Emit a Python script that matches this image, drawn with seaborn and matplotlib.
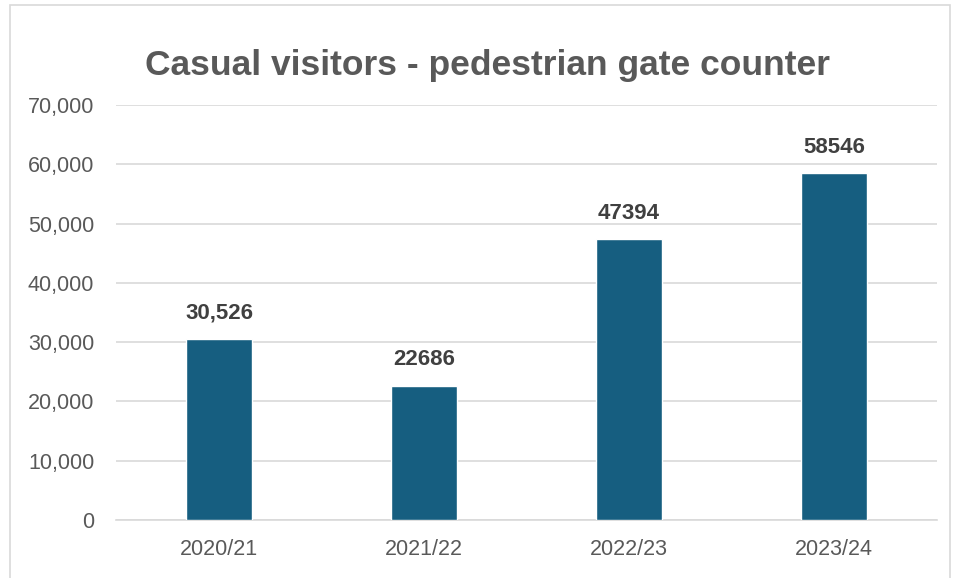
import matplotlib
matplotlib.use("Agg")
import matplotlib.pyplot as plt
import seaborn as sns
import pandas as pd
from matplotlib.patches import Rectangle
from matplotlib.ticker import FuncFormatter


# chart data
seasons = ["2020/21", "2021/22", "2022/23", "2023/24"]
visitors = [30526, 22686, 47394, 58546]
bar_labels = ["30,526", "22686", "47394", "58546"]
y_ticks = [0, 10000, 20000, 30000, 40000, 50000, 60000, 70000]

df = pd.DataFrame({"season": seasons, "visitors": visitors})


# generate plot
sns.set_style("white")
plt.rcParams["font.family"] = ["Liberation Sans", "DejaVu Sans"]

fig = plt.figure(figsize=(9.54, 5.78), dpi=100)
ax = fig.add_axes([0.1221, 0.1003, 0.8596, 0.718])

sns.barplot(data=df, x="season", y="visitors", color="#165e80",
            width=0.32, saturation=1, ax=ax, zorder=3)

ax.set_ylim(0, 70000)
ax.set_yticks(y_ticks)
ax.yaxis.set_major_formatter(FuncFormatter(lambda v, p: f"{int(v):,}"))
ax.grid(axis="y", color="#d9d9d9", linewidth=1.2, zorder=0)
ax.set_xlabel("")
ax.set_ylabel("")
for s in ["top", "right", "left"]:
    ax.spines[s].set_visible(False)
ax.spines["bottom"].set_color("#d9d9d9")
ax.spines["bottom"].set_linewidth(1.2)
ax.tick_params(axis="both", length=0, labelsize=15.5, colors="#595959")
ax.tick_params(axis="y", pad=16)
ax.tick_params(axis="x", pad=14)

for patch, txt in zip(ax.patches, bar_labels):
    ax.annotate(txt, (patch.get_x() + patch.get_width() / 2, patch.get_height()),
                xytext=(0, 11), textcoords="offset points", ha="center", va="bottom",
                fontsize=16, fontweight="bold", color="#404040")

fig.text(0.511, 0.886, "Casual visitors - pedestrian gate counter", ha="center", va="center",
         fontsize=25.5, fontweight="bold", color="#595959")

# light border around the chart area
fig.patches.append(Rectangle((10 / 954, -0.01), 940 / 954, 1 - 5 / 578 + 0.01,
                             transform=fig.transFigure, fill=False,
                             edgecolor="#d9d9d9", linewidth=1.2))

plt.savefig("out.png", dpi=100)
